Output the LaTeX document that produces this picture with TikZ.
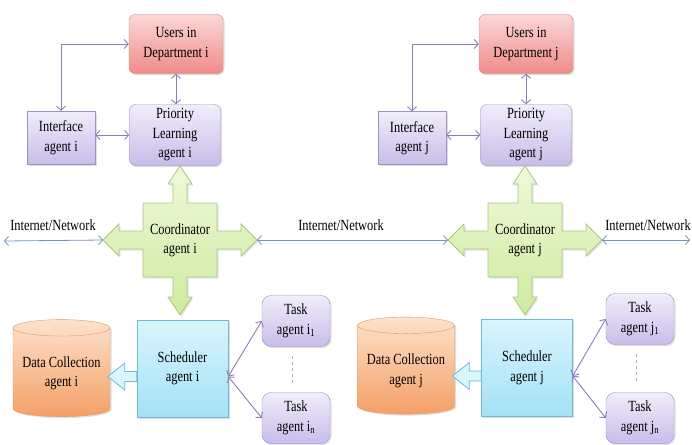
\documentclass[tikz,border=0pt]{standalone}
\usepackage{fontspec}
\setmainfont{Liberation Serif}[FakeStretch=0.8]
\usetikzlibrary{shapes.geometric,shadows,arrows.meta}

\definecolor{usrtop}{HTML}{FBD8D8}
\definecolor{usrbot}{HTML}{F08A8A}
\definecolor{usrline}{HTML}{CE8A8A}
\definecolor{lavtop}{HTML}{F1EDFA}
\definecolor{lavbot}{HTML}{C8BDE9}
\definecolor{lavline}{HTML}{9D90C9}
\definecolor{grntop}{HTML}{EEF9D9}
\definecolor{grnbot}{HTML}{CDEB9F}
\definecolor{grnline}{HTML}{A9C67E}
\definecolor{cyantop}{HTML}{D9F5FD}
\definecolor{cyanbot}{HTML}{A3E1F5}
\definecolor{cyanline}{HTML}{6DB9D6}
\definecolor{orgtop}{HTML}{FDE2CC}
\definecolor{orgbot}{HTML}{F4A066}
\definecolor{orgline}{HTML}{E0995F}
\definecolor{linkcol}{HTML}{8A7DBA}
\definecolor{netcol}{HTML}{7393C6}

\tikzset{
	box/.style={draw, align=center, inner sep=2pt, font=\fontsize{15.5}{19.5}\selectfont,
		drop shadow={opacity=0.25, shadow xshift=1.5pt, shadow yshift=-1.5pt}},
	usersbox/.style={box, draw=usrline, rounded corners=6pt, top color=usrtop, bottom color=usrbot,
		minimum width=94pt, minimum height=59pt},
	agentbox/.style={box, draw=lavline, top color=lavtop, bottom color=lavbot},
	priobox/.style={agentbox, rounded corners=6pt, minimum width=91pt, minimum height=61pt},
	ifacebox/.style={agentbox, minimum width=68pt, minimum height=53pt},
	taskbox/.style={agentbox, rounded corners=9pt, minimum width=68pt, minimum height=51pt},
	schedbox/.style={box, draw=cyanline, top color=cyantop, bottom color=cyanbot,
		minimum width=91pt, minimum height=97pt},
	database/.style={box, cylinder, shape border rotate=90, aspect=0.2, draw=orgline,
		top color=orgtop, bottom color=orgbot, minimum width=97pt, minimum height=97pt},
	coordtext/.style={align=center, font=\fontsize{15.5}{19}\selectfont},
	netlabel/.style={font=\fontsize{15.5}{17}\selectfont},
	cross/.style={draw=grnline, line width=0.8pt, top color=grntop, bottom color=grnbot,
		drop shadow={opacity=0.2, shadow xshift=1.5pt, shadow yshift=-1.5pt}},
	hollow/.style={draw=cyanline, line width=0.8pt, fill=cyantop},
	link/.style={{Straight Barb[length=4pt,width=9pt]}-{Straight Barb[length=4pt,width=9pt]},
		draw=linkcol, line width=0.9pt},
	netlink/.style={{Straight Barb[length=4pt,width=9pt]}-{Straight Barb[length=4pt,width=9pt]},
		draw=netcol, line width=0.8pt},
	dashline/.style={draw=netcol!70, dashed, line width=0.8pt}
}

\begin{document}
\begin{tikzpicture}[x=1pt, y=-1pt]
	\useasboundingbox (0,0) rectangle (692,444);
	
	% department i
	\draw (176,44) node[usersbox] (usersi) {Users in\\Department i};
	\draw (175,135) node[priobox] (prioi) {Priority\\Learning\\agent i};
	\draw (61,137.5) node[ifacebox] (ifacei) {Interface\\agent i};
	\draw[link] (ifacei.north) |- (usersi.west);
	\draw[link] (usersi.south) -- (usersi.south |- prioi.north);
	\draw[link] (ifacei.east |- prioi.west) -- (prioi.west);
	
	\draw[cross, shift={(180,240)}] (0,-74) -- (12,-56) -- (7,-56) -- (7,-37) -- (37,-37) -- (37,-9) -- (61,-9) -- (61,-16) -- (77,0) -- (61,16) -- (61,9) -- (37,9) -- (37,37) -- (7,37) -- (7,57) -- (12,57) -- (0,75) -- (-12,57) -- (-7,57) -- (-7,37) -- (-37,37) -- (-37,9) -- (-61,9) -- (-61,16) -- (-77,0) -- (-61,-16) -- (-61,-9) -- (-37,-9) -- (-37,-37) -- (-7,-37) -- (-7,-56) -- (-12,-56) -- cycle;
	\draw (180,240) node[coordtext] (coordi) {Coordinator\\agent i};
	\coordinate (ciw) at (103,240);
	\coordinate (cie) at (257,240);
	
	\draw (182.5,368.5) node[schedbox] (schedi) {Scheduler\\agent i};
	\draw (61.5,373.5) node[database] (datai) {Data Collection\\agent i};
	\draw[hollow, shift={([yshift=-8pt]schedi.west)}] (0,-5) -- (-12,-5) -- (-12,-13.5) -- (-29,0) -- (-12,13.5) -- (-12,5) -- (0,5) -- cycle;
	\draw (296,321) node[taskbox] (taski1) {Task\\agent i\textsubscript{1}};
	\draw (296,418) node[taskbox] (taskin) {Task\\agent i\textsubscript{n}};
	\draw[link] ([yshift=-8pt]schedi.east) -- (taski1.west);
	\draw[link] ([yshift=-8pt]schedi.east) -- (taskin.west);
	\draw[dashline, shorten <=9pt, shorten >=9pt] ([xshift=-4pt]taski1.south) -- ([xshift=-4pt]taskin.north);
	
	% department j
	\draw (526,44) node[usersbox] (usersj) {Users in\\Department j};
	\draw (526,135) node[priobox] (prioj) {Priority\\Learning\\agent j};
	\draw (412,138) node[ifacebox] (ifacej) {Interface\\agent j};
	\draw[link] (ifacej.north) |- (usersj.west);
	\draw[link] (usersj.south) -- (usersj.south |- prioj.north);
	\draw[link] (ifacej.east |- prioj.west) -- (prioj.west);
	
	\draw[cross, shift={(525,240)}] (0,-74) -- (12,-56) -- (7,-56) -- (7,-37) -- (37,-37) -- (37,-9) -- (61,-9) -- (61,-16) -- (77,0) -- (61,16) -- (61,9) -- (37,9) -- (37,37) -- (7,37) -- (7,57) -- (12,57) -- (0,75) -- (-12,57) -- (-7,57) -- (-7,37) -- (-37,37) -- (-37,9) -- (-61,9) -- (-61,16) -- (-77,0) -- (-61,-16) -- (-61,-9) -- (-37,-9) -- (-37,-37) -- (-7,-37) -- (-7,-56) -- (-12,-56) -- cycle;
	\draw (525,240) node[coordtext] (coordj) {Coordinator\\agent j};
	\coordinate (cjw) at (448,240);
	\coordinate (cje) at (602,240);
	
	\draw (527,368) node[schedbox] (schedj) {Scheduler\\agent j};
	\draw (406,371) node[database] (dataj) {Data Collection\\agent j};
	\draw[hollow, shift={([yshift=-8pt]schedj.west)}] (0,-5) -- (-12,-5) -- (-12,-13.5) -- (-29,0) -- (-12,13.5) -- (-12,5) -- (0,5) -- cycle;
	\draw (640,319) node[taskbox] (taskj1) {Task\\agent j\textsubscript{1}};
	\draw (640,418) node[taskbox] (taskjn) {Task\\agent j\textsubscript{n}};
	\draw[link] ([yshift=-8pt]schedj.east) -- (taskj1.west);
	\draw[link] ([yshift=-8pt]schedj.east) -- (taskjn.west);
	\draw[dashline, shorten <=9pt, shorten >=9pt] ([xshift=-4pt]taskj1.south) -- ([xshift=-4pt]taskjn.north);
	
	% network
	\coordinate (netl) at (4,241);
	\coordinate (netr) at (690,240);
	\draw[netlink] (netl) -- (ciw);
	\draw[netlink] (cie) -- (cjw);
	\draw[netlink] (cje) -- (netr);
	\draw (53,225) node[netlabel] (neti) {Internet/Network};
	\draw (341,225) node[netlabel] (netm) {Internet/Network};
	\draw (648,225) node[netlabel] (netj) {Internet/Network};
\end{tikzpicture}
\end{document}
